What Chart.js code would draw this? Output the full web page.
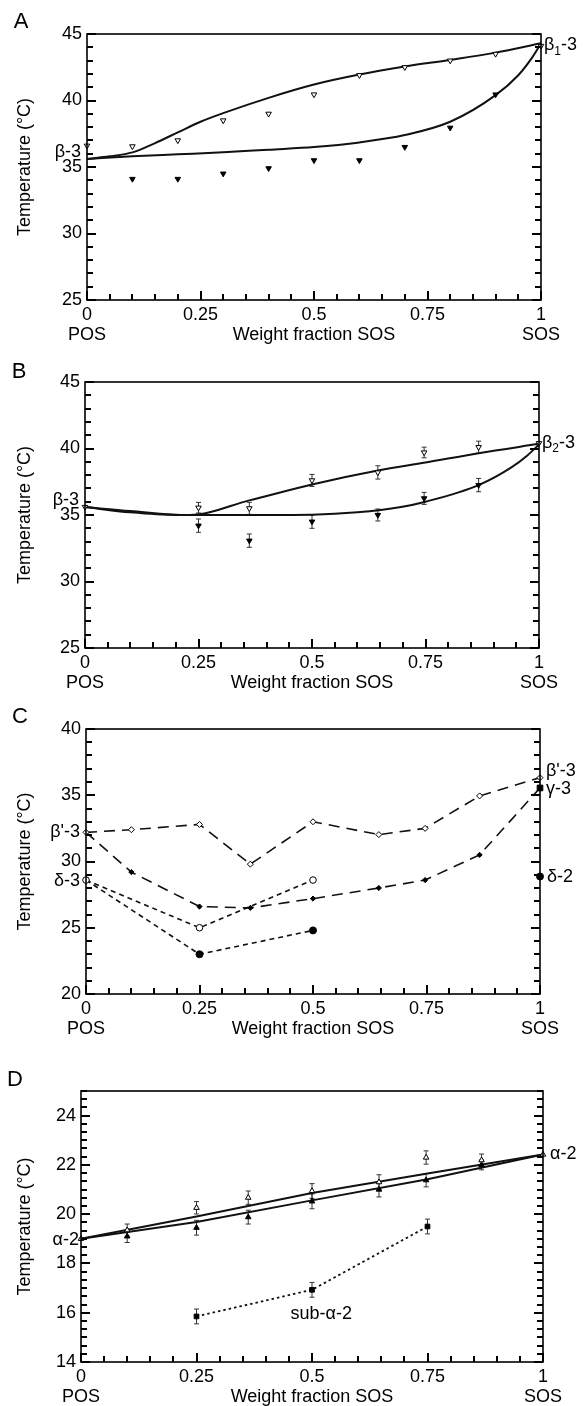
<!DOCTYPE html>
<html>
<head>
<meta charset="utf-8">
<script src="https://cdn.jsdelivr.net/npm/chart.js@4.4.0/dist/chart.umd.min.js"></script>
<style>
  body { margin: 0; background: #fff; }
  #fig { position: relative; width: 583px; height: 1406px; }
  canvas { position: absolute; left: 0; }
</style>
</head>
<body>
<div id="fig">
  <canvas id="panelA" width="583" height="350" style="top:0px"></canvas>
  <canvas id="panelB" width="583" height="348" style="top:350px"></canvas>
  <canvas id="panelC" width="583" height="346" style="top:698px"></canvas>
  <canvas id="panelD" width="583" height="362" style="top:1044px"></canvas>
</div>
<script>
const FONT = "'Liberation Sans', Arial, Helvetica, sans-serif";

// weight fraction SOS ticks, shared by all panels
const fracTicks = [0, 0.25, 0.5, 0.75, 1];

// --- A : beta-3 / beta1-3 ---
const fracA = [0, 0.1, 0.2, 0.3, 0.4, 0.5, 0.6, 0.7, 0.8, 0.9, 1];
const liquidusPtsA = [36.6, 36.55, 37.0, 38.5, 39.0, 40.45, 41.9, 42.5, 43.0, 43.5, 44.1];
const fracSolidA = [0.1, 0.2, 0.3, 0.4, 0.5, 0.6, 0.7, 0.8, 0.9];
const solidusPtsA = [34.1, 34.1, 34.5, 34.9, 35.5, 35.5, 36.5, 37.95, 40.45];
const liqCurveXA = [0, 0.05, 0.1, 0.15, 0.2, 0.25, 0.3, 0.4, 0.5, 0.6, 0.7, 0.8, 0.9, 1];
const liqCurveA = [35.6, 35.8, 36.1, 36.8, 37.6, 38.4, 39.05, 40.2, 41.2, 41.95, 42.55, 43.05, 43.6, 44.3];
const solCurveXA = [0, 0.1, 0.2, 0.3, 0.4, 0.5, 0.6, 0.7, 0.8, 0.9, 0.95, 0.98, 1];
const solCurveA = [35.6, 35.8, 35.95, 36.1, 36.3, 36.5, 36.85, 37.4, 38.4, 40.4, 41.9, 43.2, 44.3];
const tempTicksA = [25, 30, 35, 40, 45];

// --- B : beta-3 / beta2-3 ---
const fracB = [0, 0.25, 0.362, 0.5, 0.645, 0.747, 0.867, 1];
const liquidusPtsB = [35.6, 35.55, 35.5, 37.6, 38.2, 39.7, 40.1, 40.4];
const liquidusErrB = [0, 0.4, 0.45, 0.45, 0.5, 0.4, 0.45, 0];
const fracSolidB = [0.25, 0.362, 0.5, 0.645, 0.747, 0.867];
const solidusPtsB = [34.2, 33.07, 34.5, 35.0, 36.25, 37.25];
const solidusErrB = [0.5, 0.5, 0.5, 0.45, 0.45, 0.5];
const liqCurveXB = [0, 0.1, 0.23, 0.362, 0.5, 0.645, 0.75, 0.867, 1];
const liqCurveB = [35.6, 35.3, 35.0, 36.1, 37.3, 38.35, 38.95, 39.65, 40.35];
const solCurveXB = [0, 0.1, 0.2, 0.3, 0.4, 0.5, 0.6, 0.696, 0.75, 0.867, 0.94, 0.975, 1];
const solCurveB = [35.6, 35.2, 35.0, 35.0, 35.0, 35.02, 35.2, 35.6, 36.0, 37.25, 38.6, 39.5, 40.3];
const tempTicksB = [25, 30, 35, 40, 45];

// --- C : beta'-3, gamma-3, delta-3, delta-2 ---
const fracC = [0, 0.1, 0.25, 0.362, 0.5, 0.645, 0.747, 0.867, 1];
const betaPrimeC = [32.2, 32.4, 32.8, 29.8, 33.0, 32.03, 32.5, 34.95, 36.33];
const gammaC = [32.2, 29.2, 26.6, 26.5, 27.2, 28.0, 28.6, 30.5, 35.55];
const fracDeltaC = [0, 0.25, 0.5];
const deltaOpenC = [28.6, 25.0, 28.6];
const deltaFilledC = [28.6, 23.0, 24.8];
const fracDelta2C = [1];
const delta2C = [28.87];
const tempTicksC = [20, 25, 30, 35, 40];

// --- D : alpha-2, sub-alpha-2 ---
const fracD = [0, 0.1, 0.25, 0.362, 0.5, 0.645, 0.747, 0.867, 1];
const alphaOpenD = [19.0, 19.35, 20.26, 20.67, 20.94, 21.3, 22.3, 22.19, 22.42];
const alphaOpenErrD = [0, 0.25, 0.25, 0.27, 0.3, 0.3, 0.27, 0.25, 0];
const fracFilledD = [0.1, 0.25, 0.362, 0.5, 0.645, 0.747, 0.867];
const alphaFilledD = [19.1, 19.45, 19.88, 20.52, 21.0, 21.38, 22.0];
const alphaFilledErrD = [0.25, 0.3, 0.28, 0.3, 0.3, 0.27, 0.2];
const fracSubD = [0.25, 0.5, 0.75];
const subAlphaD = [15.85, 16.93, 19.5];
const subAlphaErrD = [0.3, 0.3, 0.3];
const lineXD = [0, 0.25, 0.5, 0.75, 1];
const upperLineD = [19.0, 19.91, 20.86, 21.65, 22.42];
const lowerLineD = [19.0, 19.68, 20.56, 21.42, 22.42];
const tempTicksD = [14, 16, 18, 20, 22, 24];

const pts = (xs, ys) => xs.map((x, i) => ({ x, y: ys[i] }));

function markers(xs, ys, style, extra) {
  return Object.assign({
    data: pts(xs, ys), showLine: false, clip: false,
    pointStyle: style, pointRadius: 3.2, pointBorderWidth: 1,
    pointBorderColor: '#000', pointBackgroundColor: '#000'
  }, extra);
}
function curve(xs, ys, extra) {
  return Object.assign({
    data: pts(xs, ys), showLine: true, clip: false, pointRadius: 0,
    borderColor: '#111', borderWidth: 2, cubicInterpolationMode: 'monotone'
  }, extra);
}

// inward tick marks along bottom, left and right edges of the plot box
function drawInnerTicks(chart, o) {
  const { ctx, chartArea: a, scales: { x, y } } = chart;
  const isMajor = (v, m) => Math.abs(v / m - Math.round(v / m)) < 1e-6;
  ctx.save();
  ctx.setLineDash([]);
  ctx.strokeStyle = '#000';
  ctx.lineWidth = 2;
  ctx.beginPath();
  for (let i = 0; i <= 20; i++) {
    const v = i * 0.05;
    const len = isMajor(v, 0.25) ? 9 : 6;
    const px = Math.round(x.getPixelForValue(v));
    ctx.moveTo(px, a.bottom);
    ctx.lineTo(px, a.bottom - len);
  }
  const ny = Math.round((o.yMax - o.yMin) / o.yMinor);
  for (let i = 0; i <= ny; i++) {
    const v = o.yMin + i * o.yMinor;
    const len = isMajor(v, o.yMajor) ? 9 : 6;
    const py = Math.round(y.getPixelForValue(v));
    ctx.moveTo(a.left, py);
    ctx.lineTo(a.left + len, py);
    ctx.moveTo(a.right, py);
    ctx.lineTo(a.right - len, py);
  }
  ctx.stroke();
  ctx.restore();
}

const figurePlugin = {
  id: 'figure',
  beforeDatasetsDraw(chart) {
    const { ctx, scales: { x, y } } = chart;
    ctx.save();
    ctx.strokeStyle = '#333';
    ctx.lineWidth = 1;
    chart.data.datasets.forEach(ds => {
      if (!ds.err) return;
      ds.data.forEach((p, i) => {
        const e = ds.err[i];
        if (!e) return;
        const px = x.getPixelForValue(p.x);
        const y1 = y.getPixelForValue(p.y - e), y2 = y.getPixelForValue(p.y + e);
        ctx.beginPath();
        ctx.moveTo(px, y1); ctx.lineTo(px, y2);
        ctx.moveTo(px - 2.5, y1); ctx.lineTo(px + 2.5, y1);
        ctx.moveTo(px - 2.5, y2); ctx.lineTo(px + 2.5, y2);
        ctx.stroke();
      });
    });
    ctx.restore();
  },
  afterDraw(chart) {
    const o = chart.canvas.fig;
    const { ctx, chartArea: a, scales: { x, y } } = chart;
    drawInnerTicks(chart, o);
    ctx.save();
    ctx.strokeStyle = '#000';
    ctx.lineWidth = 1.6;
    ctx.strokeRect(a.left, a.top, a.right - a.left, a.bottom - a.top);

    ctx.fillStyle = '#000';
    ctx.textBaseline = 'middle';
    // panel letter
    ctx.font = `22px ${FONT}`;
    ctx.textAlign = 'center';
    ctx.fillText(o.letter[0], o.letter[1], o.letter[2]);
    // composition end labels
    ctx.font = `18px ${FONT}`;
    const yb = a.bottom + 35;
    ctx.fillText('POS', x.getPixelForValue(0), yb);
    ctx.fillText('SOS', x.getPixelForValue(1), yb);
    // phase labels
    o.labels.forEach(l => {
      const parts = l.sub ? [[l.text, 18, 0], [l.sub, 12, 6], [l.rest, 18, 0]] : [[l.text, 18, 0]];
      let w = 0;
      parts.forEach(p => { ctx.font = `${p[1]}px ${FONT}`; p[3] = ctx.measureText(p[0]).width; w += p[3]; });
      let px = x.getPixelForValue(l.x) + l.dx;
      if (l.align === 'right') px -= w;
      if (l.align === 'center') px -= w / 2;
      const py = y.getPixelForValue(l.y);
      ctx.textAlign = 'left';
      parts.forEach(p => {
        ctx.font = `${p[1]}px ${FONT}`;
        ctx.fillText(p[0], px, py + p[2]);
        px += p[3];
      });
    });
    ctx.restore();
  }
};

function makePanel(id, cfg) {
  const canvas = document.getElementById(id);
  canvas.fig = cfg;
  const H = canvas.height;
  const [aL, aT, aR, aB] = cfg.area;
  const tick = { font: { family: FONT, size: 18 }, color: '#000', autoSkip: false, maxRotation: 0, callback: v => String(v) };
  return new Chart(canvas, {
    type: 'scatter',
    data: { datasets: cfg.datasets },
    options: {
      responsive: false,
      animation: false,
      events: [],
      layout: { padding: { left: 0, top: aT, right: 583 - aR, bottom: 0 } },
      plugins: { legend: { display: false }, tooltip: { enabled: false } },
      scales: {
        x: {
          type: 'linear', min: 0, max: 1,
          afterBuildTicks: s => { s.ticks = fracTicks.map(v => ({ value: v })); },
          afterFit: s => { s.height = H - aB; },
          grid: { display: false, drawTicks: false },
          border: { display: false },
          ticks: Object.assign({ padding: 4 }, tick),
          title: { display: true, text: 'Weight fraction SOS', color: '#000', font: { family: FONT, size: 18 },
                   padding: { top: 0, bottom: H - aB - 35 - 10.8 } }
        },
        y: {
          type: 'linear', min: cfg.yMin, max: cfg.yMax,
          afterBuildTicks: s => { s.ticks = cfg.yTicks.map(v => ({ value: v })); },
          afterFit: s => { s.width = aL; },
          grid: { display: false, drawTicks: false },
          border: { display: false },
          ticks: Object.assign({ padding: 5 }, tick),
          title: { display: true, text: 'Temperature (°C)', color: '#000', font: { family: FONT, size: 18 },
                   padding: { top: 14, bottom: 0 } }
        }
      }
    },
    plugins: [figurePlugin]
  });
}

const open = { pointBackgroundColor: '#fff' };
const down = { pointRotation: 180 };

makePanel('panelA', {
  area: [87, 34, 541, 300],
  yMin: 25, yMax: 45, yTicks: tempTicksA, yMinor: 1, yMajor: 5,
  letter: ['A', 21, 22],
  labels: [
    { text: 'β-3', x: 0, y: 36.1, dx: -6, align: 'right' },
    { text: 'β', sub: '1', rest: '-3', x: 1, y: 44.15, dx: 3, align: 'left' }
  ],
  datasets: [
    markers(fracA, liquidusPtsA, 'triangle', Object.assign({}, open, down)),
    markers(fracSolidA, solidusPtsA, 'triangle', down),
    curve(liqCurveXA, liqCurveA),
    curve(solCurveXA, solCurveA)
  ]
});

makePanel('panelB', {
  area: [85, 32, 539, 298],
  yMin: 25, yMax: 45, yTicks: tempTicksB, yMinor: 1, yMajor: 5,
  letter: ['B', 19, 22],
  labels: [
    { text: 'β-3', x: 0, y: 36.1, dx: -6, align: 'right' },
    { text: 'β', sub: '2', rest: '-3', x: 1, y: 40.42, dx: 3, align: 'left' }
  ],
  datasets: [
    markers(fracB, liquidusPtsB, 'triangle', Object.assign({ err: liquidusErrB }, open, down)),
    markers(fracSolidB, solidusPtsB, 'triangle', Object.assign({ err: solidusErrB }, down)),
    curve(liqCurveXB, liqCurveB),
    curve(solCurveXB, solCurveB)
  ]
});

const dashed = (dash, w) => ({ borderWidth: w, borderDash: dash, cubicInterpolationMode: 'default', tension: 0 });

makePanel('panelC', {
  area: [86, 31, 540, 296],
  yMin: 20, yMax: 40, yTicks: tempTicksC, yMinor: 1, yMajor: 5,
  letter: ['C', 20, 19],
  labels: [
    { text: "β'-3", x: 0, y: 32.25, dx: -6, align: 'right' },
    { text: 'δ-3', x: 0, y: 28.5, dx: -6, align: 'right' },
    { text: "β'-3", x: 1, y: 36.8, dx: 6, align: 'left' },
    { text: 'γ-3', x: 1, y: 35.5, dx: 6, align: 'left' },
    { text: 'δ-2', x: 1, y: 28.86, dx: 7, align: 'left' }
  ],
  datasets: [
    markers(fracDelta2C, delta2C, 'circle', { pointRadius: 3.5 }),
    Object.assign(curve(fracC, betaPrimeC, dashed([11, 7], 1.6)),
      { pointStyle: 'rectRot', pointRadius: 3, pointBorderWidth: 1, pointBorderColor: '#000', pointBackgroundColor: '#fff' }),
    Object.assign(curve(fracC, gammaC, dashed([11, 7], 1.6)),
      { pointStyle: ['rectRot', 'rectRot', 'rectRot', 'rectRot', 'rectRot', 'rectRot', 'rectRot', 'rectRot', 'rect'],
        pointRadius: [0, 2.6, 2.6, 2.6, 2.6, 2.6, 2.6, 2.6, 4], pointBorderWidth: 1, pointBorderColor: '#000', pointBackgroundColor: '#000' }),
    Object.assign(curve(fracDeltaC, deltaOpenC, dashed([5, 4], 1.6)),
      { pointStyle: 'circle', pointRadius: 3.3, pointBorderWidth: 1, pointBorderColor: '#000', pointBackgroundColor: '#fff' }),
    Object.assign(curve(fracDeltaC, deltaFilledC, dashed([5, 4], 1.6)),
      { pointStyle: 'circle', pointRadius: [0, 3.5, 3.5], pointBorderWidth: 1, pointBorderColor: '#000', pointBackgroundColor: '#000' })
  ]
});

makePanel('panelD', {
  area: [81, 47, 543, 318],
  yMin: 14, yMax: 25, yTicks: tempTicksD, yMinor: 1 / 3, yMajor: 2,
  letter: ['D', 15, 36],
  labels: [
    { text: 'α-2', x: 0, y: 18.94, dx: -2, align: 'right' },
    { text: 'α-2', x: 1, y: 22.43, dx: 7, align: 'left' },
    { text: 'sub-α-2', x: 0.52, y: 15.96, dx: 0, align: 'center' }
  ],
  datasets: [
    markers(fracD, alphaOpenD, 'triangle', Object.assign({ err: alphaOpenErrD }, open)),
    markers(fracFilledD, alphaFilledD, 'triangle', { err: alphaFilledErrD }),
    Object.assign(curve(fracSubD, subAlphaD, dashed([2.5, 3], 1.8)),
      { err: subAlphaErrD, pointStyle: 'rect', pointRadius: 3.3, pointBorderWidth: 1, pointBorderColor: '#000', pointBackgroundColor: '#000' }),
    curve(lineXD, upperLineD, dashed([], 2)),
    curve(lineXD, lowerLineD, dashed([], 2))
  ]
});
</script>
</body>
</html>
